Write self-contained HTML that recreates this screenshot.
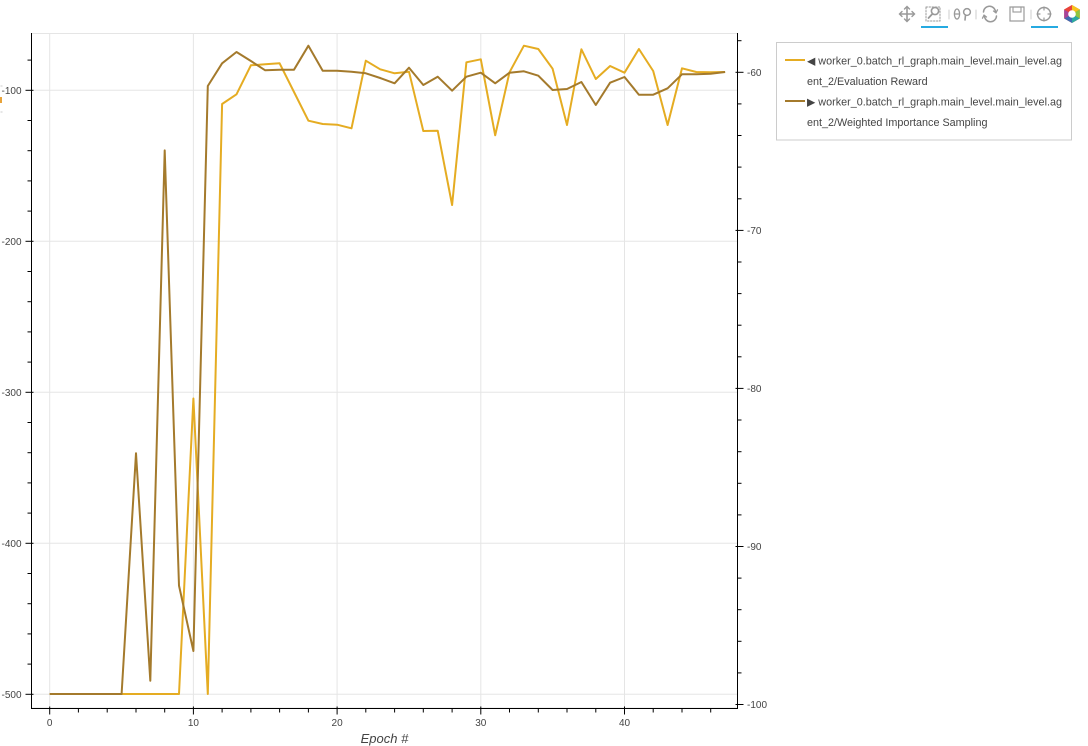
<!DOCTYPE html>
<html>
<head>
<meta charset="utf-8">
<style>
  html, body { margin: 0; padding: 0; background: #ffffff; }
  body { width: 1088px; height: 746px; overflow: hidden; }
  svg { display: block; }
  text { font-family: "Liberation Sans", "DejaVu Sans", sans-serif; }
</style>
</head>
<body>
<svg width="1088" height="746" viewBox="0 0 1088 746" xmlns="http://www.w3.org/2000/svg">
  <!-- plot frame outline -->
  <rect x="31.5" y="33.5" width="706" height="674.5" fill="none" stroke="#e5e5e5" stroke-width="1"/>

  <!-- grid lines -->
  <g stroke="#e5e5e5" stroke-width="1">
    <line x1="49.7" y1="33" x2="49.7" y2="708"/>
    <line x1="193.4" y1="33" x2="193.4" y2="708"/>
    <line x1="337.1" y1="33" x2="337.1" y2="708"/>
    <line x1="480.8" y1="33" x2="480.8" y2="708"/>
    <line x1="624.5" y1="33" x2="624.5" y2="708"/>
    <line x1="31" y1="90.3" x2="737" y2="90.3"/>
    <line x1="31" y1="241.3" x2="737" y2="241.3"/>
    <line x1="31" y1="392.3" x2="737" y2="392.3"/>
    <line x1="31" y1="543.3" x2="737" y2="543.3"/>
    <line x1="31" y1="694.3" x2="737" y2="694.3"/>
  </g>

  <!-- series: Evaluation Reward (left axis) -->
  <polyline fill="none" stroke="#e5ac22" stroke-width="2" stroke-linejoin="round"
    points="49.7,694 63.9,694 78.4,694 92.8,694 107.2,694 121.6,694 136,694 150.3,694 164.7,694 179,694 193.4,398.5 207.8,694 222.1,104 236.5,94.3 250.9,65.3 265.2,64.3 279.6,63.3 294,92 308.4,120.7 322.7,124 337.1,124.7 351.5,128.3 365.8,60.7 380.2,69.3 394.6,73.3 409,71.7 423.3,131 437.7,130.7 452.1,205 466.4,62.3 480.8,59.3 495.2,135.3 509.5,72.3 523.9,45.7 538.3,49 552.6,68.7 567,125 581.4,49.3 595.8,79 610.1,66 624.5,72.7 638.9,49 653.2,71 667.6,125 682,68.3 696.3,72 710.7,72.3 725.1,72"/>

  <!-- series: Weighted Importance Sampling (right axis) -->
  <polyline fill="none" stroke="#a47a2c" stroke-width="2" stroke-linejoin="round"
    points="49.7,694 63.9,694 78.4,694 92.8,694 107.2,694 121.6,694 136,453.3 150.3,680.7 164.7,150.4 179,585.6 193.4,651 207.8,86 222.1,63.3 236.5,52 250.9,61 265.2,70.3 279.6,69.7 294,69.7 308.4,45.7 322.7,70.7 337.1,70.7 351.5,71.7 365.8,73.3 380.2,78 394.6,83.3 409,67.7 423.3,85 437.7,76.7 452.1,90.7 466.4,76.7 480.8,72.7 495.2,83.3 509.5,72.7 523.9,71.3 538.3,75.7 552.6,90 567,89 581.4,82 595.8,105 610.1,82.7 624.5,77 638.9,94.7 653.2,94.7 667.6,88.3 682,74.3 696.3,74.3 710.7,73.7 725.1,72"/>

  <!-- axes lines -->
  <g stroke="#000" stroke-width="1">
    <line x1="31.5" y1="33" x2="31.5" y2="708.5"/>
    <line x1="31" y1="708.5" x2="738" y2="708.5"/>
    <line x1="737.5" y1="33" x2="737.5" y2="708.5"/>
  </g>

  <!-- left axis ticks -->
  <g stroke="#000" stroke-width="1">
    <line x1="25.5" y1="90.3" x2="33.5" y2="90.3"/>
    <line x1="25.5" y1="241.3" x2="33.5" y2="241.3"/>
    <line x1="25.5" y1="392.3" x2="33.5" y2="392.3"/>
    <line x1="25.5" y1="543.3" x2="33.5" y2="543.3"/>
    <line x1="25.5" y1="694.3" x2="33.5" y2="694.3"/>
    <line x1="27.5" y1="60.1" x2="31.5" y2="60.1"/>
    <line x1="27.5" y1="120.5" x2="31.5" y2="120.5"/>
    <line x1="27.5" y1="150.7" x2="31.5" y2="150.7"/>
    <line x1="27.5" y1="180.9" x2="31.5" y2="180.9"/>
    <line x1="27.5" y1="211.1" x2="31.5" y2="211.1"/>
    <line x1="27.5" y1="271.5" x2="31.5" y2="271.5"/>
    <line x1="27.5" y1="301.7" x2="31.5" y2="301.7"/>
    <line x1="27.5" y1="331.9" x2="31.5" y2="331.9"/>
    <line x1="27.5" y1="362.1" x2="31.5" y2="362.1"/>
    <line x1="27.5" y1="422.5" x2="31.5" y2="422.5"/>
    <line x1="27.5" y1="452.7" x2="31.5" y2="452.7"/>
    <line x1="27.5" y1="482.9" x2="31.5" y2="482.9"/>
    <line x1="27.5" y1="513.1" x2="31.5" y2="513.1"/>
    <line x1="27.5" y1="573.5" x2="31.5" y2="573.5"/>
    <line x1="27.5" y1="603.7" x2="31.5" y2="603.7"/>
    <line x1="27.5" y1="633.9" x2="31.5" y2="633.9"/>
    <line x1="27.5" y1="664.1" x2="31.5" y2="664.1"/>
  </g>
  <g font-size="10" fill="#444" text-anchor="end">
    <text x="21.5" y="94">-100</text>
    <text x="21.5" y="245">-200</text>
    <text x="21.5" y="396">-300</text>
    <text x="21.5" y="547">-400</text>
    <text x="21.5" y="698">-500</text>
  </g>

  <!-- right axis ticks -->
  <g stroke="#000" stroke-width="1">
    <line x1="735.5" y1="72.3" x2="743.5" y2="72.3"/>
    <line x1="735.5" y1="230.4" x2="743.5" y2="230.4"/>
    <line x1="735.5" y1="388.4" x2="743.5" y2="388.4"/>
    <line x1="735.5" y1="546.5" x2="743.5" y2="546.5"/>
    <line x1="735.5" y1="704.5" x2="743.5" y2="704.5"/>
    <line x1="737.5" y1="40.7" x2="741.5" y2="40.7"/>
    <line x1="737.5" y1="103.9" x2="741.5" y2="103.9"/>
    <line x1="737.5" y1="135.5" x2="741.5" y2="135.5"/>
    <line x1="737.5" y1="167.1" x2="741.5" y2="167.1"/>
    <line x1="737.5" y1="198.8" x2="741.5" y2="198.8"/>
    <line x1="737.5" y1="262" x2="741.5" y2="262"/>
    <line x1="737.5" y1="293.6" x2="741.5" y2="293.6"/>
    <line x1="737.5" y1="325.2" x2="741.5" y2="325.2"/>
    <line x1="737.5" y1="356.8" x2="741.5" y2="356.8"/>
    <line x1="737.5" y1="420" x2="741.5" y2="420"/>
    <line x1="737.5" y1="451.7" x2="741.5" y2="451.7"/>
    <line x1="737.5" y1="483.3" x2="741.5" y2="483.3"/>
    <line x1="737.5" y1="514.9" x2="741.5" y2="514.9"/>
    <line x1="737.5" y1="578.1" x2="741.5" y2="578.1"/>
    <line x1="737.5" y1="609.7" x2="741.5" y2="609.7"/>
    <line x1="737.5" y1="641.3" x2="741.5" y2="641.3"/>
    <line x1="737.5" y1="672.9" x2="741.5" y2="672.9"/>
  </g>
  <g font-size="10" fill="#444" text-anchor="start">
    <text x="747" y="76">-60</text>
    <text x="747" y="234">-70</text>
    <text x="747" y="392">-80</text>
    <text x="747" y="550">-90</text>
    <text x="747" y="708">-100</text>
  </g>

  <!-- bottom axis ticks -->
  <g stroke="#000" stroke-width="1">
    <line x1="49.7" y1="706.5" x2="49.7" y2="714.5"/>
    <line x1="193.4" y1="706.5" x2="193.4" y2="714.5"/>
    <line x1="337.1" y1="706.5" x2="337.1" y2="714.5"/>
    <line x1="480.8" y1="706.5" x2="480.8" y2="714.5"/>
    <line x1="624.5" y1="706.5" x2="624.5" y2="714.5"/>
    <line x1="78.4" y1="708.5" x2="78.4" y2="712.5"/>
    <line x1="107.2" y1="708.5" x2="107.2" y2="712.5"/>
    <line x1="136" y1="708.5" x2="136" y2="712.5"/>
    <line x1="164.7" y1="708.5" x2="164.7" y2="712.5"/>
    <line x1="222.1" y1="708.5" x2="222.1" y2="712.5"/>
    <line x1="250.9" y1="708.5" x2="250.9" y2="712.5"/>
    <line x1="279.6" y1="708.5" x2="279.6" y2="712.5"/>
    <line x1="308.4" y1="708.5" x2="308.4" y2="712.5"/>
    <line x1="365.8" y1="708.5" x2="365.8" y2="712.5"/>
    <line x1="394.6" y1="708.5" x2="394.6" y2="712.5"/>
    <line x1="423.3" y1="708.5" x2="423.3" y2="712.5"/>
    <line x1="452.1" y1="708.5" x2="452.1" y2="712.5"/>
    <line x1="509.5" y1="708.5" x2="509.5" y2="712.5"/>
    <line x1="538.3" y1="708.5" x2="538.3" y2="712.5"/>
    <line x1="567" y1="708.5" x2="567" y2="712.5"/>
    <line x1="595.8" y1="708.5" x2="595.8" y2="712.5"/>
    <line x1="653.2" y1="708.5" x2="653.2" y2="712.5"/>
    <line x1="682" y1="708.5" x2="682" y2="712.5"/>
    <line x1="710.7" y1="708.5" x2="710.7" y2="712.5"/>
  </g>
  <g font-size="10" fill="#444" text-anchor="middle">
    <text x="49.7" y="726">0</text>
    <text x="193.4" y="726">10</text>
    <text x="337.1" y="726">20</text>
    <text x="480.8" y="726">30</text>
    <text x="624.5" y="726">40</text>
  </g>
  <text x="384.5" y="743" font-size="13" font-style="italic" fill="#444" text-anchor="middle">Epoch #</text>

  <!-- small clipped widget at left edge -->
  <path d="M0.5,86 L2.5,86 M0.5,112 L2.5,112" stroke="#ccc" stroke-width="1"/>
  <rect x="0" y="97" width="2" height="6" fill="#e8a33a"/>

  <!-- legend -->
  <rect x="776.5" y="42.5" width="295" height="97.5" fill="#fff" stroke="#cccccc" stroke-width="1"/>
  <line x1="785" y1="60" x2="805" y2="60" stroke="#e5ac22" stroke-width="2"/>
  <line x1="785" y1="101" x2="805" y2="101" stroke="#a47a2c" stroke-width="2"/>
  <g font-size="10.8" fill="#444">
    <text x="807" y="64.5">◀ worker_0.batch_rl_graph.main_level.main_level.ag</text>
    <text x="807" y="85">ent_2/Evaluation Reward</text>
    <text x="807" y="105.5">▶ worker_0.batch_rl_graph.main_level.main_level.ag</text>
    <text x="807" y="126">ent_2/Weighted Importance Sampling</text>
  </g>

  <!-- toolbar -->
  <g stroke="#999" stroke-width="1.6" fill="none" stroke-linecap="round">
    <!-- pan -->
    <line x1="900" y1="14" x2="914" y2="14"/>
    <line x1="907" y1="7" x2="907" y2="21"/>
    <path d="M902,11.5 L899.5,14 L902,16.5 M912,11.5 L914.5,14 L912,16.5 M904.5,9 L907,6.5 L909.5,9 M904.5,19 L907,21.5 L909.5,19" stroke-width="1.4"/>
    <!-- box zoom -->
    <rect x="926" y="7" width="14" height="14" stroke-dasharray="1.5,1.5" stroke-width="1"/>
    <circle cx="935" cy="11" r="3.6" stroke-width="1.6"/>
    <line x1="932.5" y1="13.8" x2="928.5" y2="18" stroke-width="1.8"/>
    <!-- separator -->
    <line x1="949" y1="10" x2="949" y2="19" stroke="#ccc" stroke-width="1"/>
    <!-- wheel zoom -->
    <ellipse cx="957" cy="14" rx="2.6" ry="5" stroke-width="1.3"/>
    <line x1="954.5" y1="14" x2="959.5" y2="14" stroke-width="1.2"/>
    <circle cx="967" cy="12" r="3.4" stroke-width="1.5"/>
    <line x1="965.5" y1="15" x2="965" y2="20" stroke-width="1.6"/>
    <!-- separator -->
    <line x1="976" y1="10" x2="976" y2="19" stroke="#ccc" stroke-width="1"/>
    <!-- reset -->
    <path d="M983.5,12 A6,6 0 0 1 995.5,12.5" stroke-width="1.5"/>
    <path d="M996.5,16 A6,6 0 0 1 984.5,15.5" stroke-width="1.5"/>
    <path d="M993.5,11 L996,12.8 L997.5,9.8" stroke-width="1.3"/>
    <path d="M986.5,17 L984,15.2 L982.5,18.2" stroke-width="1.3"/>
    <!-- save -->
    <rect x="1010" y="7" width="14" height="14" stroke-width="1.2"/>
    <rect x="1013" y="7" width="8" height="5" stroke-width="1.1"/>
    <!-- separator -->
    <line x1="1031" y1="10" x2="1031" y2="19" stroke="#ccc" stroke-width="1"/>
    <!-- crosshair -->
    <circle cx="1044" cy="14" r="6.5" stroke-width="1.4"/>
    <line x1="1037" y1="14" x2="1040" y2="14" stroke-width="1.2"/>
    <line x1="1048" y1="14" x2="1051" y2="14" stroke-width="1.2"/>
    <line x1="1044" y1="7" x2="1044" y2="10" stroke-width="1.2"/>
    <line x1="1044" y1="18" x2="1044" y2="21" stroke-width="1.2"/>
  </g>
  <!-- active tool underlines -->
  <rect x="921" y="26" width="27" height="2" fill="#26aae1"/>
  <rect x="1031" y="26" width="27" height="2" fill="#26aae1"/>
  <!-- bokeh logo -->
  <g transform="translate(1072,14)">
    <polygon points="0,-9 7.8,-4.5 7.8,4.5 0,9 -7.8,4.5 -7.8,-4.5" fill="#e85d3a"/>
    <polygon points="0,-9 7.8,-4.5 0,0" fill="#f6c21d"/>
    <polygon points="7.8,-4.5 7.8,4.5 0,0" fill="#8dc63f"/>
    <polygon points="7.8,4.5 0,9 0,0" fill="#2aa9a3"/>
    <polygon points="0,9 -7.8,4.5 0,0" fill="#3f6ab3"/>
    <polygon points="-7.8,4.5 -7.8,-4.5 0,0" fill="#a6449a"/>
    <polygon points="-7.8,-4.5 0,-9 0,0" fill="#e8433a"/>
    <circle cx="0" cy="0" r="3.8" fill="#fff"/>
  </g>
</svg>
</body>
</html>
